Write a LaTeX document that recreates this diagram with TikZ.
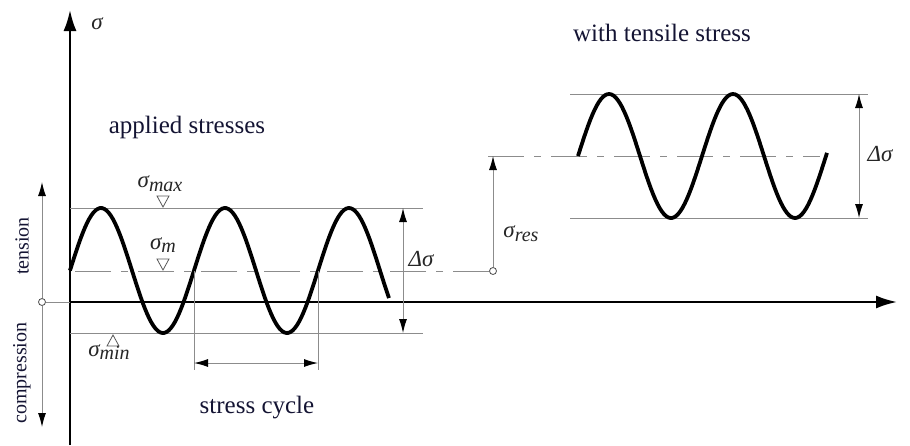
\documentclass[tikz,border=0pt]{standalone}
\usepackage{fontspec}
\setmainfont{Liberation Serif}
\usepackage{tikz}
\usetikzlibrary{arrows}
\usetikzlibrary{arrows.meta}
\tikzset{>={Latex[width=8pt,length=14pt,color=black]}}
\definecolor{inkblue}{rgb}{0.08,0.08,0.2}
\definecolor{guide}{gray}{0.55}
\newcommand{\lowidx}[1]{\raisebox{-0.35ex}{\fontsize{20}{22}\selectfont #1}}

\begin{document}
\begin{tikzpicture}[x=1pt,y=-1pt,
    axisline/.style={line width=2.2pt, -{Latex[width=13pt,length=21pt]}},
    guideline/.style={draw=guide, line width=1pt},
    midline/.style={draw=guide, line width=1pt, dash pattern=on 36pt off 10pt on 7pt off 10pt},
    wave/.style={line width=3.8pt},
    bigtext/.style={text=inkblue, font=\fontsize{25}{30}\selectfont},
    sidetext/.style={text=inkblue, font=\fontsize{20}{24}\selectfont, rotate=90},
    symtext/.style={text=black!85, font=\fontsize{23}{26}\selectfont\itshape},
    dot/.style={circle, draw=black!70, line width=0.8pt, fill=white, inner sep=0pt, minimum size=7pt}]
  \useasboundingbox (0,0) rectangle (910,445);
  \pgfmathsetmacro{\period}{124}
  % Draw axes
  \coordinate (origin) at (70,302);
  \coordinate (sigtop) at (70,10);
  \coordinate (sigbot) at (70,445);
  \coordinate (tend) at (897,302);
  \draw[axisline] (sigbot) -- (sigtop);
  \draw[axisline] (origin) -- (tend);
  \node[symtext] (sig) at (97,24) {σ};
  % Draw tension / compression arrows
  \node[dot] (zero) at (42,302) {};
  \coordinate (tenstop) at (42,182);
  \coordinate (compbot) at (42,427);
  \draw[guideline] (zero) -- (origin);
  \draw[guideline, ->] (zero) -- (tenstop);
  \draw[guideline, ->] (zero) -- (compbot);
  \node[sidetext] (tension) at (22,246) {tension};
  \node[sidetext] (compression) at (22,373) {compression};
  % Draw applied stresses
  \coordinate (maxl) at (70,208);  \coordinate (maxr) at (423,208);
  \coordinate (minl) at (70,333);  \coordinate (minr) at (423,333);
  \coordinate (meanl) at (70,271);
  \node[dot] (resdot) at (493,271) {};
  \draw[guideline] (maxl) -- (maxr);
  \draw[guideline] (minl) -- (minr);
  \draw[midline] (resdot) -- (meanl);
  \draw[wave] plot[domain=70:389, samples=150] (\x, {270.5 - 62.5*cos(((\x-101)/\period)*360)});
  \coordinate (dtop) at (403,208);
  \coordinate (dbot) at (403,333);
  \draw[guideline, <->] (dtop) -- (dbot);
  \node[symtext, anchor=west] (dsig) at (405,259) {Δσ};
  % Draw level markers
  \foreach \tx/\ty/\tdir in {163/207/1, 163/270/1, 113/335/-1}
    \draw[draw=black!65, line width=0.8pt, fill=white] (\tx,\ty) -- ++(-6,-11*\tdir) -- ++(12,0) -- cycle;
  \node[symtext] (sigmax) at (160,184) {σ\lowidx{max}};
  \node[symtext] (sigm) at (163,245) {σ\lowidx{m}};
  \node[symtext] (sigmin) at (109,352) {σ\lowidx{min}};
  \node[bigtext] (applied) at (187,127) {applied stresses};
  % Draw stress cycle
  \coordinate (cyca) at (194,363);
  \coordinate (cycb) at (318,363);
  \draw[guideline] (194,271) -- (194,370);
  \draw[guideline] (318,271) -- (318,370);
  \draw[guideline, <->] (cyca) -- (cycb);
  \node[bigtext] (cycle) at (257,408) {stress cycle};
  % Draw stresses with residual stress
  \coordinate (resl) at (488,156);  \coordinate (resr) at (820,156);
  \coordinate (restop) at (493,156);
  \draw[midline] (resl) -- (resr);
  \draw[guideline, ->] (resdot) -- (restop);
  \node[symtext] (sigres) at (521,234) {σ\lowidx{res}};
  \coordinate (upl) at (570,94);   \coordinate (upr) at (868,94);
  \coordinate (lowl) at (570,218); \coordinate (lowr) at (868,218);
  \draw[guideline] (upl) -- (upr);
  \draw[guideline] (lowl) -- (lowr);
  \draw[wave] plot[domain=578:827, samples=120] (\x, {156 - 62*cos(((\x-609)/\period)*360)});
  \coordinate (rtop) at (859,94);
  \coordinate (rbot) at (859,218);
  \draw[guideline, <->] (rtop) -- (rbot);
  \node[symtext] (dsigr) at (880,154) {Δσ};
  \node[bigtext] (tensile) at (662,33) {with tensile stress};
\end{tikzpicture}
\end{document}
